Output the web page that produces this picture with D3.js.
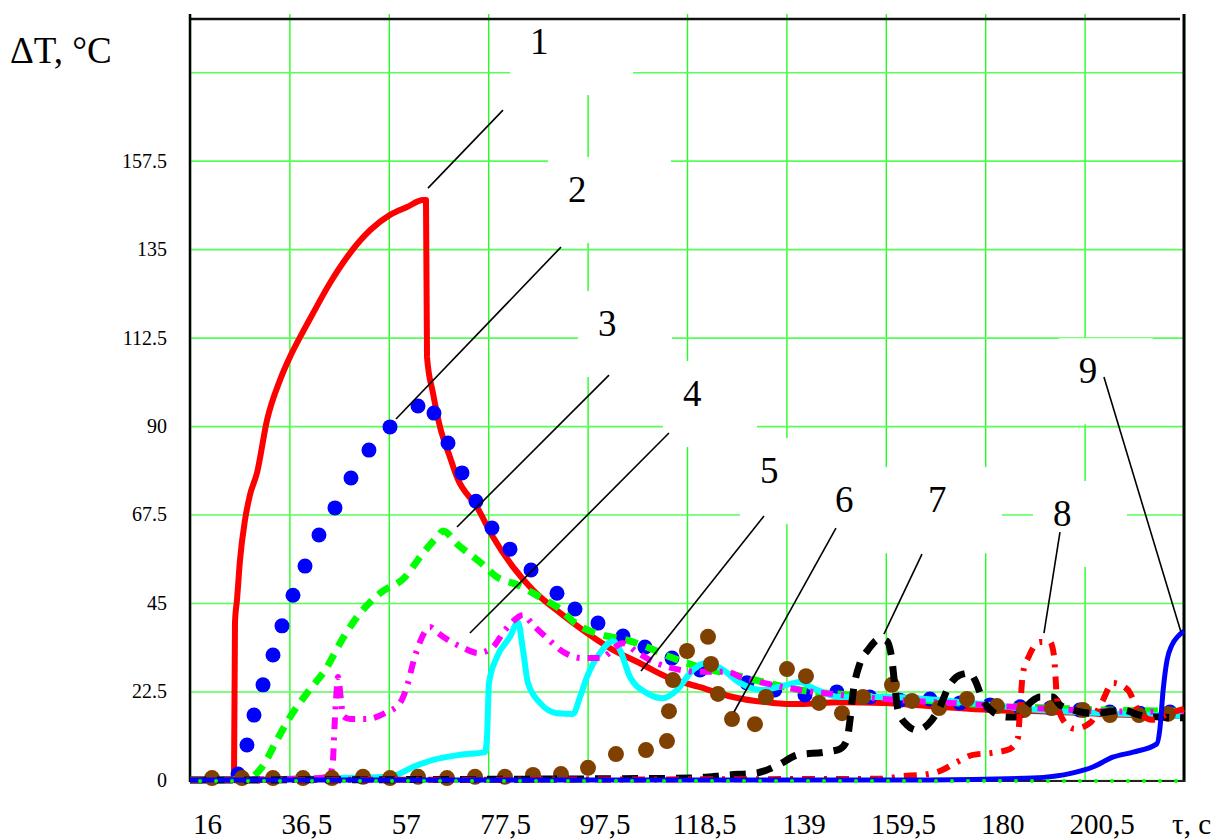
<!DOCTYPE html>
<html>
<head>
<meta charset="utf-8">
<script src="https://cdn.jsdelivr.net/npm/d3@7"></script>
<style>
  body { margin: 0; background: #fff; }
  #chart text { font-family: "Liberation Serif", "Times New Roman", serif !important; fill: #000; }
</style>
</head>
<body>
<svg id="chart" width="1220" height="839"></svg>
<script>
// axis values (time in s, temperature rise in °C)
const xGridValues = [16, 36.5, 57, 77.5, 98, 118.5, 139, 159.5, 180, 200.5, 221];
const xTickLabels = ["16", "36,5", "57", "77,5", "97,5", "118,5", "139", "159,5", "180", "200,5"];
const yGridValues = [0, 22.5, 45, 67.5, 90, 112.5, 135, 157.5, 180];
const yTickLabels = ["0", "22.5", "45", "67.5", "90", "112.5", "135", "157.5"];

// series, [t, dT]
const s1 = [[16,0],[25.07,0],[25.28,40.2],[25.69,45.8],[26.31,55.9],[27.34,66.1],[28.37,72.5],[29.82,78.1],
  [31.88,91.5],[34.56,101.7],[36.62,107.6],[38.69,112.6],[41.37,118.7],[44.87,126.4],[49.0,134.0],[53.12,139.8],
  [57.25,143.7],[60.75,145.7],[64.05,147.5],[64.67,147.5],[64.88,107.6],[66.11,98.4],[67.56,89.8],[69.62,82.1],
  [71.06,77.0],[75.19,69.4],[78.49,61.8],[82.61,54.2],[86.74,48.3],[92.3,42.5],[97.87,37.4],[103.23,33.1],
  [108.8,29.7],[114.37,26.2],[121.18,23.6],[127.98,21.1],[136.23,19.6],[141.8,19.3],[150.05,19.8],[158.91,19.6],
  [170.67,18.6],[180.98,17.8],[191.29,17.5],[203.67,16.8],[221,16.3]];

const s2 = [[25.9,1.5],[27.75,8.9],[29.2,16.5],[31.06,24.2],[33.12,31.8],[34.97,39.2],[37.24,47.0],[39.72,54.4],
  [42.6,62.3],[45.9,69.2],[49.2,76.8],[52.91,83.9],[57.25,89.8],[63.02,95.1],[66.32,93.3],[69.21,85.7],
  [72.09,78.1],[74.98,70.9],[78.28,64.1],[81.99,58.7],[86.33,53.4],[91.69,47.5],[95.4,43.5],[100.14,39.9],
  [105.3,36.6],[109.83,33.8],[115.4,31.0],[121.18,28.0],[130.87,24.7],[136.6,22.9],[142.83,21.6],[149.4,22.4],
  [156.2,21.1],[162.4,20.3],[168.6,20.6],[174.8,19.6],[181.0,19.1],[187.2,18.6],[193.4,18.3],[199.5,17.8],
  [205.7,17.3],[211.9,17.0],[218.1,17.3]];

const s3 = [[16,0],[27.34,0],[30.85,3.3],[33.94,10.2],[36.62,16.0],[40.13,22.1],[44.25,28.7],[46.93,34.8],
  [50.44,41.4],[55.18,47.5],[60.34,51.6],[63.43,56.7],[66.94,61.8],[68.18,63.3],[71.27,59.8],[75.81,55.4],
  [79.31,51.6],[83.64,49.6],[88.18,46.5],[91.69,44.0],[96.02,39.4],[100.97,36.9],[106.12,35.6],[110.25,33.8],
  [115.61,31.0],[119.73,29.2],[130.05,26.2],[134.99,24.7],[141.8,22.9],[152.1,21.6],[162.4,20.8],[172.7,19.8],
  [183.0,18.8],[193.4,18.3],[203.7,17.8],[221,17.5]];

const s4 = [[16,0],[42.81,0.5],[44.87,1.5],[45.49,5.1],[45.7,10.9],[46.11,20.3],[46.52,26.2],[47.14,20.3],
  [47.55,16.3],[49.0,15.5],[52.5,15.5],[56.2,17.0],[59.31,19.6],[60.96,24.7],[61.99,29.7],[63.43,35.1],
  [65.49,38.9],[66.94,37.6],[68.59,36.1],[72.09,33.8],[75.39,32.3],[78.28,33.6],[80.96,38.1],[83.64,41.4],
  [84.67,42.0],[86.74,39.4],[89.62,36.1],[93.33,32.3],[96.84,31.0],[100.55,31.0],[105.3,34.8],[108.18,32.5],
  [110.86,30.5],[117.05,28.0],[121.18,27.5],[126.75,27.5],[130.05,25.9],[133.55,24.9],[141.8,22.9],[152.1,21.4],
  [162.4,20.3],[172.7,19.6],[183.0,18.8],[193.4,18.1],[203.7,17.5],[221,17.3]];

const s5 = [[16,0],[38.69,0.3],[57.25,0.8],[61.99,3.3],[66.11,5.1],[71.68,6.4],[76.84,7.1],[77.25,10.9],
  [77.66,24.7],[79.31,31.3],[81.99,36.4],[83.64,40.2],[84.67,33.1],[85.7,24.7],[88.18,19.6],[91.69,17.0],
  [94.99,16.8],[96.43,21.1],[97.87,26.2],[100.55,32.3],[103.23,35.3],[104.68,33.1],[106.74,26.2],[110.25,22.1],
  [113.55,20.8],[116.43,22.9],[119.73,28.0],[122.21,29.7],[125.3,28.5],[129.43,24.7],[133.55,22.9],[139.12,24.2],
  [141.8,24.9],[144.48,23.4],[150.05,21.1],[160.36,21.1],[170.67,20.3],[180.98,19.1],[191.29,17.8],[205.11,17.0],
  [220.8,16.3]];

const s6 = [[20.54,0.5],[26.72,0.5],[33.12,0.5],[39.3,0.5],[45.28,0.5],[51.68,0.8],[57.25,0.5],[63.02,0.8],
  [69.0,0.5],[74.78,0.8],[80.96,0.8],[86.74,1.3],[92.51,1.5],[98.08,3.1],[103.85,6.6],[110.04,7.6],
  [114.37,9.9],[114.78,17.5],[115.61,25.4],[118.5,32.8],[122.83,36.4],[123.45,29.5],[124.89,21.9],[127.78,15.5],
  [132.52,14.2],[134.79,21.1],[139.12,28.2],[143.04,26.4],[145.72,19.6],[150.46,17.0],[154.79,21.1],[160.77,24.2],
  [164.9,20.1],[170.47,18.3],[176.24,20.6],[182.43,18.8],[187.99,17.8],[193.77,18.3],[200.16,17.8],[205.73,16.5],
  [211.71,16.5],[217.69,16.8]];

const s7 = [[16,0],[100.55,0.3],[119.1,0.5],[127.36,1.3],[132.93,1.8],[137.26,3.8],[141.39,6.4],[146.96,7.1],
  [150.05,7.9],[151.5,10.2],[152.12,15.3],[152.74,22.1],[154.17,29.7],[155.83,33.1],[158.3,35.9],[159.74,35.3],
  [160.77,30.5],[161.39,23.6],[162.01,17.8],[163.87,14.0],[165.93,12.7],[169.03,15.3],[170.67,18.6],[172.32,23.4],
  [174.8,26.7],[176.86,27.2],[177.89,25.4],[179.54,20.3],[181.6,17.3],[184.49,16.0],[186.55,16.0],[189.23,19.6],
  [191.29,21.1],[193.98,21.1],[195.42,19.1],[198.1,17.8],[201.61,17.0],[205.11,17.3],[208.41,17.8],[211.92,16.5],
  [216.04,16.0],[221,15.8]];

const s8 = [[16,0],[158.3,0.3],[163.0,1.0],[166.96,1.3],[170.67,2.3],[173.77,4.3],[177.48,6.4],[181.39,6.9],
  [185.11,7.9],[186.76,10.7],[187.17,17.8],[187.79,27.2],[189.02,31.5],[191.29,35.1],[193.36,35.1],[194.2,31.5],
  [194.5,26.2],[194.8,20.8],[196.04,15.3],[198.51,13.0],[201.61,14.5],[204.08,19.8],[206.35,24.7],[209.45,22.9],
  [211.3,18.3],[214.4,15.3],[218.1,17.0],[221,18.1]];

const s9 = [[16,0],[168.6,0],[189.8,0.5],[198.1,1.8],[202.2,3.3],[206.3,5.8],[210.5,7.1],[215.4,9.2],
  [216.0,12.7],[216.7,22.9],[217.5,30.5],[218.5,34.3],[219.8,36.6],[221,37.9]];

// curve numbers: label anchor [t, dT], leader line from [t, dT] to [t, dT]
const labelNames = ["1", "2", "3", "4", "5", "6", "7", "8", "9"];
const labelAt = [[86.12,184.6],[93.95,146.96],[100.14,112.9],[117.67,95.1],[133.55,75.5],[149.0,68.1],[168.2,68.1],[193.97,64.6],[199.3,100.9]];
const leaderFrom = [[80.55,170.35],[92.51,135.52],[102.41,102.97],[114.78,88.23],[134.38,67.12],[149.22,64.07],[166.96,57.46],[195.42,63.06],[204.49,102.47]];
const leaderTo = [[65.08,150.52],[58.48,91.79],[71.06,64.33],[73.74,37.38],[109.01,27.71],[128.19,17.29],[159.12,37.12],[192.12,37.38],[220.37,37.63]];
const labelBoxW = [123, 123, 94, 94, 94, 94, 94, 94, 94];

const svg = d3.select("#chart");
const x = d3.scaleLinear().domain([16, 221]).range([190, 1184]);
const y = d3.scaleLinear().domain([0, 194.8]).range([780, 14]);

// grid
svg.append("g")
  .attr("transform", "translate(0,780)")
  .call(d3.axisBottom(x).tickValues(xGridValues).tickSize(-766).tickFormat(""))
  .call(g => g.select(".domain").remove())
  .call(g => g.selectAll("line").attr("stroke", "#22ff22").attr("stroke-width", 1.4));
svg.append("g")
  .attr("transform", "translate(190,0)")
  .call(d3.axisLeft(y).tickValues(yGridValues).tickSize(-994).tickFormat(""))
  .call(g => g.select(".domain").remove())
  .call(g => g.selectAll("line").attr("stroke", "#55ff55").attr("stroke-width", 1.6));

// white label boxes hiding the grid
svg.append("g").selectAll("rect")
  .data(labelAt)
  .join("rect")
  .attr("x", d => x(d[0]) - 20)
  .attr("y", d => y(d[1]) - 45)
  .attr("width", (d, i) => labelBoxW[i])
  .attr("height", 86)
  .attr("fill", "#fff");

// frame
svg.append("line").attr("x1", 190).attr("x2", 1180).attr("y1", y(193.5)).attr("y2", y(193.5))
  .attr("stroke", "#111").attr("stroke-width", 2.5);
svg.append("line").attr("x1", 190).attr("x2", 190).attr("y1", 14).attr("y2", 782)
  .attr("stroke", "#000").attr("stroke-width", 2.5);
svg.append("line").attr("x1", 1184).attr("x2", 1184).attr("y1", 14).attr("y2", 782)
  .attr("stroke", "#000").attr("stroke-width", 3);
svg.append("line").attr("x1", 190).attr("x2", 1185).attr("y1", 781).attr("y2", 781)
  .attr("stroke", "#222").attr("stroke-width", 2);

const line = d3.line().x(d => x(d[0])).y(d => y(d[1])).curve(d3.curveMonotoneX);

function drawLine(data, color, width, dash) {
  svg.append("path")
    .datum(data)
    .attr("d", line)
    .attr("fill", "none")
    .attr("stroke", color)
    .attr("stroke-width", width)
    .attr("stroke-dasharray", dash)
    .attr("stroke-linejoin", "round");
}
function drawDots(data, color, r) {
  svg.append("g").selectAll("circle")
    .data(data)
    .join("circle")
    .attr("cx", d => x(d[0]))
    .attr("cy", d => y(d[1]))
    .attr("r", r)
    .attr("fill", color);
}

drawLine(s1, "#ff0000", 6, null);
drawDots(s2, "#0000ff", 7.5);
drawLine(s3, "#00ff00", 7, "13,9");
drawLine(s5, "#00ffff", 6, null);
drawLine(s4, "#ff00ff", 6, "12,8,3,8");
drawDots(s6, "#7f4000", 8);
drawLine(s7, "#000000", 7, "16,11");
drawLine(s8, "#ff0000", 6, "13,9,3,9");
drawLine(s9, "#0000ff", 5, null);

// green dotted trace along zero
svg.append("line")
  .attr("x1", x(16)).attr("x2", x(221)).attr("y1", y(0) + 1).attr("y2", y(0) + 1)
  .attr("stroke", "#00ff00").attr("stroke-width", 4)
  .attr("stroke-linecap", "round").attr("stroke-dasharray", "0,16")
  .attr("stroke-dashoffset", -10);

// leader lines and curve numbers
svg.append("g").selectAll("line")
  .data(leaderFrom)
  .join("line")
  .attr("x1", d => x(d[0])).attr("y1", d => y(d[1]))
  .attr("x2", (d, i) => x(leaderTo[i][0])).attr("y2", (d, i) => y(leaderTo[i][1]))
  .attr("stroke", "#000").attr("stroke-width", 1.6);

svg.append("g").selectAll("text")
  .data(labelAt)
  .join("text")
  .attr("x", d => x(d[0]))
  .attr("y", d => y(d[1]))
  .attr("font-size", 37)
  .text((d, i) => labelNames[i]);

// tick labels
svg.append("g")
  .attr("transform", "translate(0,780)")
  .call(d3.axisBottom(x).tickValues(xGridValues.slice(0, 10)).tickSize(0).tickPadding(0)
    .tickFormat((d, i) => xTickLabels[i]))
  .call(g => g.select(".domain").remove())
  .call(g => g.selectAll("text")
    .attr("font-size", 29)
    .attr("dy", 0).attr("y", 54).attr("dx", 17));

svg.append("g")
  .attr("transform", "translate(190,0)")
  .call(d3.axisLeft(y).tickValues(yGridValues.slice(0, 8)).tickSize(0).tickPadding(23)
    .tickFormat((d, i) => yTickLabels[i]))
  .call(g => g.select(".domain").remove())
  .call(g => g.selectAll("text").attr("font-size", 20));

// axis titles
svg.append("text").attr("x", 10).attr("y", 63).attr("font-size", 37).text("ΔT, °C");
svg.append("text").attr("x", 1172).attr("y", 834).attr("font-size", 29).text("τ, с");
</script>
</body>
</html>
